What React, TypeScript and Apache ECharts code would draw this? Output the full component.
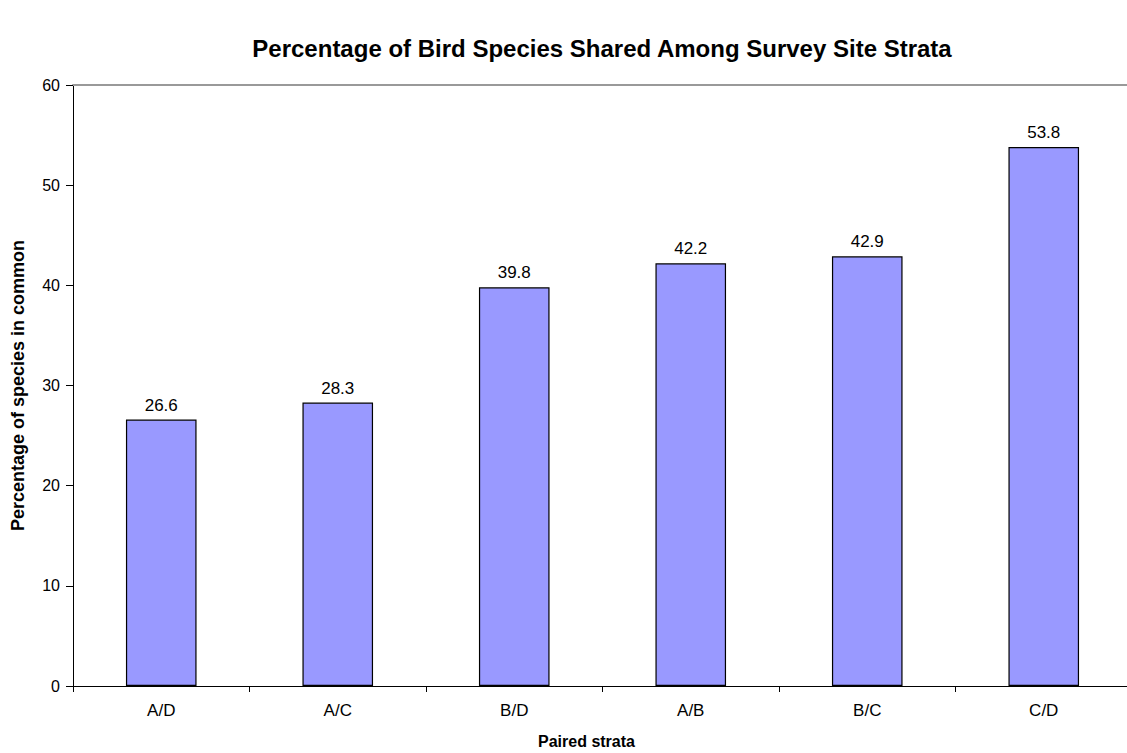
import React, { useEffect, useRef } from "react";
import * as echarts from "echarts";

const categories = ["A/D", "A/C", "B/D", "A/B", "B/C", "C/D"];
const values = [26.6, 28.3, 39.8, 42.2, 42.9, 53.8];
const titleText = "Percentage of Bird Species Shared Among Survey Site Strata";
const yName = "Percentage of species in common";
const xName = "Paired strata";

const FONT = "'Liberation Sans', Arial, sans-serif";

export default function App() {
  const ref = useRef<HTMLDivElement>(null);
  useEffect(() => {
    document.body.style.margin = "0";
    const chart = echarts.init(ref.current!, null, { renderer: "svg" });
    chart.setOption({
      animation: false,
      backgroundColor: "#ffffff",
      textStyle: { fontFamily: FONT },
      title: {
        text: titleText,
        left: 597,
        top: 31,
        textAlign: "center",
        textStyle: { fontFamily: FONT, fontSize: 24, fontWeight: "bold", color: "#000" },
      },
      grid: { left: 73, top: 85, width: 1059, height: 601, outerBoundsMode: "none", containLabel: false },
      xAxis: [
        {
          type: "category",
          data: categories,
          boundaryGap: true,
          axisLine: { lineStyle: { color: "#000", width: 1 } },
          axisTick: { show: true, interval: 0, length: 6, lineStyle: { color: "#000" } },
          axisLabel: { fontFamily: FONT, fontSize: 17, color: "#000", margin: 16 },
          name: xName,
          nameLocation: "middle",
          nameGap: 47,
          nameTextStyle: {
            fontFamily: FONT,
            fontSize: 16,
            fontWeight: "bold",
            color: "#000",
            padding: [0, 32, 0, 0],
          },
        },
        {
          type: "category",
          position: "top",
          data: categories,
          axisLine: { lineStyle: { color: "#999", width: 2 } },
          axisTick: { show: false },
          axisLabel: { show: false },
        },
      ],
      yAxis: {
        type: "value",
        min: 0,
        max: 60,
        interval: 10,
        splitLine: { show: false },
        axisLine: { show: true, lineStyle: { color: "#000", width: 1 } },
        axisTick: { show: true, length: 7, lineStyle: { color: "#000" } },
        axisLabel: { fontFamily: FONT, fontSize: 16, color: "#000", margin: 13 },
        name: yName,
        nameLocation: "middle",
        nameGap: 46,
        nameRotate: 90,
        nameTextStyle: { fontFamily: FONT, fontSize: 18, fontWeight: "bold", color: "#000" },
      },
      series: [
        {
          type: "bar",
          data: values,
          barWidth: "40%",
          itemStyle: { color: "#9999ff", borderColor: "#000", borderWidth: 1.2 },
          label: {
            show: true,
            position: "top",
            distance: 6,
            fontFamily: FONT,
            fontSize: 17,
            color: "#000",
            formatter: (p: any) => p.value.toFixed(1),
          },
        },
      ],
    });
    return () => chart.dispose();
  }, []);
  return <div ref={ref} style={{ width: 1127, height: 753 }} />;
}
